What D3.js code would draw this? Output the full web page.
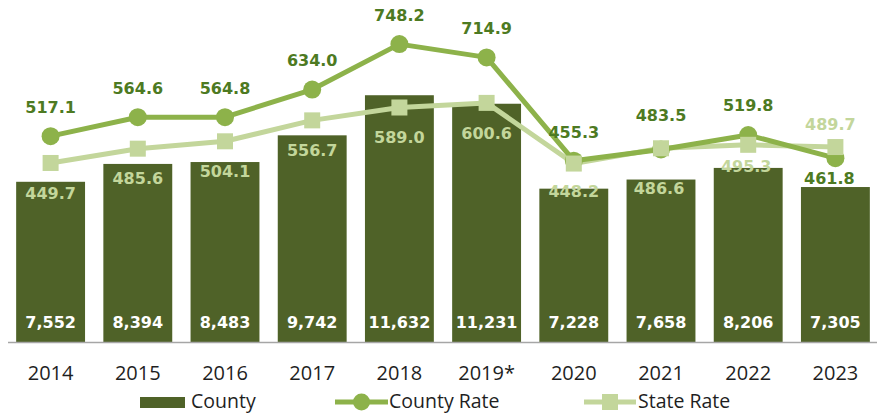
<!DOCTYPE html>
<html>
<head>
<meta charset="utf-8">
<script src="https://cdn.jsdelivr.net/npm/d3@7"></script>
<style>
  html, body { margin: 0; padding: 0; background: #fff; }
  svg { display: block; }
</style>
</head>
<body>
<svg id="chart" width="877" height="413"></svg>
<script>
// Yearly counts and rates
const years = ["2014", "2015", "2016", "2017", "2018", "2019*", "2020", "2021", "2022", "2023"];
const countyCounts = [7552, 8394, 8483, 9742, 11632, 11231, 7228, 7658, 8206, 7305];
const countyRate = [517.1, 564.6, 564.8, 634.0, 748.2, 714.9, 455.3, 483.5, 519.8, 461.8];
const stateRate = [449.7, 485.6, 504.1, 556.7, 589.0, 600.6, 448.2, 486.6, 495.3, 489.7];
const legendLabels = ["County", "County Rate", "State Rate"];

// Vertical nudges for the rate labels (px, relative to the marker)
const countyLabelDy = [-29, -29, -29, -29, -29, -29, -28, -34, -30, 20];
const stateLabelDy = [30, 30, 30, 30, 30, 30, 28, 40, 21, -23];

const colors = {
  bar: "#4f6228",
  county: "#8db24a",
  countyText: "#4d7a22",
  state: "#c3d69b",
  axis: "#a6a6a6",
  text: "#1f1f1f"
};

const svg = d3.select("#chart");
const baseY = 342;

const x = d3.scaleBand()
  .domain(years)
  .range([7, 879])
  .paddingInner(0.21)
  .paddingOuter(0.105);

const yCount = d3.scaleLinear().domain([0, 14000]).range([baseY, 45]);
const yRate = d3.scaleLinear().domain([0, 800]).range([baseY, 23.5]);

const cx = d => x(d) + x.bandwidth() / 2;

// Bars
svg.append("g").selectAll("rect")
  .data(countyCounts)
  .join("rect")
  .attr("x", (d, i) => x(years[i]))
  .attr("y", d => yCount(d))
  .attr("width", x.bandwidth())
  .attr("height", d => baseY - yCount(d))
  .attr("fill", colors.bar);

// Bar value labels
svg.append("g").selectAll("text")
  .data(countyCounts)
  .join("text")
  .attr("x", (d, i) => cx(years[i]))
  .attr("y", 322)
  .attr("dy", "0.36em")
  .attr("text-anchor", "middle")
  .attr("fill", "#ffffff")
  .style("font", "bold 16px 'DejaVu Sans', sans-serif")
  .text(d => d3.format(",")(d));

// Baseline axis
const xAxis = d3.axisBottom(x).tickSize(0).tickPadding(0);
const axisG = svg.append("g")
  .attr("transform", `translate(0,${baseY})`)
  .call(xAxis);
axisG.select(".domain").remove();
axisG.selectAll("text")
  .attr("y", 31)
  .attr("dy", "0.35em")
  .attr("fill", colors.text)
  .style("font", "20px 'Open Sans', sans-serif");
svg.append("line")
  .attr("x1", 8).attr("x2", 877)
  .attr("y1", baseY + 0.5).attr("y2", baseY + 0.5)
  .attr("stroke", colors.axis)
  .attr("stroke-width", 1.6);

// Rate lines
const rateLine = d3.line()
  .x((d, i) => cx(years[i]))
  .y(d => yRate(d));
svg.append("path")
  .datum(stateRate)
  .attr("d", rateLine)
  .attr("fill", "none")
  .attr("stroke", colors.state)
  .attr("stroke-width", 5)
  .attr("stroke-linejoin", "round");

svg.append("path")
  .datum(countyRate)
  .attr("d", rateLine)
  .attr("fill", "none")
  .attr("stroke", colors.county)
  .attr("stroke-width", 5)
  .attr("stroke-linejoin", "round");

svg.append("g").selectAll("circle")
  .data(countyRate)
  .join("circle")
  .attr("cx", (d, i) => cx(years[i]))
  .attr("cy", d => yRate(d))
  .attr("r", 9)
  .attr("fill", colors.county);

svg.append("g").selectAll("rect")
  .data(stateRate)
  .join("rect")
  .attr("x", (d, i) => cx(years[i]) - 8)
  .attr("y", d => yRate(d) - 8)
  .attr("width", 16)
  .attr("height", 16)
  .attr("fill", colors.state);

// Rate labels
svg.append("g").selectAll("text")
  .data(countyRate)
  .join("text")
  .attr("x", (d, i) => cx(years[i]) - (i === 9 ? 6 : 0))
  .attr("y", (d, i) => yRate(d) + countyLabelDy[i])
  .attr("dy", "0.36em")
  .attr("text-anchor", "middle")
  .attr("fill", colors.countyText)
  .style("font", "bold 16px 'DejaVu Sans', sans-serif")
  .text(d => d.toFixed(1));

svg.append("g").selectAll("text")
  .data(stateRate)
  .join("text")
  .attr("x", (d, i) => cx(years[i]) - (i === 7 ? 2 : 0) - (i === 9 ? 5 : 0) - (i === 8 ? 2 : 0))
  .attr("y", (d, i) => yRate(d) + stateLabelDy[i])
  .attr("dy", "0.36em")
  .attr("text-anchor", "middle")
  .attr("fill", colors.state)
  .style("font", "bold 16px 'DejaVu Sans', sans-serif")
  .text(d => d.toFixed(1));

// Legend
const legendY = 402;
const legend = svg.append("g");
legend.append("rect")
  .attr("x", 140).attr("y", legendY - 5)
  .attr("width", 45).attr("height", 11)
  .attr("fill", colors.bar);
legend.append("line")
  .attr("x1", 335).attr("x2", 388)
  .attr("y1", legendY).attr("y2", legendY)
  .attr("stroke", colors.county).attr("stroke-width", 5);
legend.append("circle")
  .attr("cx", 361.5).attr("cy", legendY).attr("r", 8.5)
  .attr("fill", colors.county);
legend.append("line")
  .attr("x1", 584).attr("x2", 636)
  .attr("y1", legendY).attr("y2", legendY)
  .attr("stroke", colors.state).attr("stroke-width", 5);
legend.append("rect")
  .attr("x", 602).attr("y", legendY - 8)
  .attr("width", 16).attr("height", 16)
  .attr("fill", colors.state);

const legendTextX = [191, 389, 638];
legend.selectAll("text")
  .data(legendLabels)
  .join("text")
  .attr("x", (d, i) => legendTextX[i])
  .attr("y", 408)
  .attr("fill", colors.text)
  .style("font", "19.5px 'Open Sans', sans-serif")
  .text(d => d);
</script>
</body>
</html>
